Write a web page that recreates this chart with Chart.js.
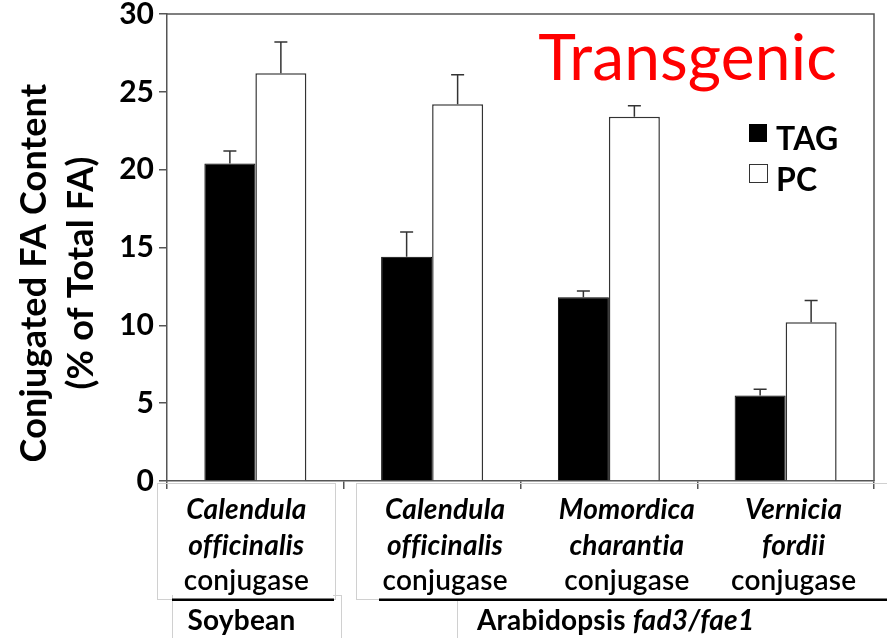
<!DOCTYPE html>
<html>
<head>
<meta charset="utf-8">
<script src="https://cdn.jsdelivr.net/npm/chart.js@4.4.1/dist/chart.umd.min.js"></script>
<style>
  body { margin: 0; background: #fff; }
</style>
</head>
<body>
<canvas id="conj-chart" width="887" height="638"></canvas>
<script>
// conjugated FA content in TAG and PC, transgenic lines
const categories = ['Soybean C. officinalis', 'Arabidopsis C. officinalis', 'Arabidopsis M. charantia', 'Arabidopsis V. fordii'];
const tagValues = [20.4, 14.4, 11.8, 5.5];
const tagErrors = [0.8, 1.6, 0.4, 0.4];
const pcValues = [26.2, 24.2, 23.4, 10.2];
const pcErrors = [2.0, 1.9, 0.7, 1.4];
const yTicks = [0, 5, 10, 15, 20, 25, 30];

// species names (italic) printed under each pair of bars
const speciesLines = [
  ['Calendula', 'officinalis'],
  ['Calendula', 'officinalis'],
  ['Momordica', 'charantia'],
  ['Vernicia', 'fordii']
];

const FONT = 'Lato, "Open Sans", sans-serif';
const AXIS = '#555';

// upward error bars on top of each bar
const errorBars = {
  id: 'errorBars',
  afterDatasetsDraw(chart) {
    const { ctx } = chart;
    const y = chart.scales.y;
    const errs = [tagErrors, pcErrors];
    ctx.save();
    ctx.strokeStyle = '#333';
    ctx.lineWidth = 1.5;
    chart.data.datasets.forEach((ds, d) => {
      chart.getDatasetMeta(d).data.forEach((bar, i) => {
        const top = y.getPixelForValue(ds.data[i]);
        const end = y.getPixelForValue(ds.data[i] + errs[d][i]);
        ctx.beginPath();
        ctx.moveTo(bar.x, top);
        ctx.lineTo(bar.x, end);
        ctx.moveTo(bar.x - 6.5, end);
        ctx.lineTo(bar.x + 6.5, end);
        ctx.stroke();
      });
    });
    ctx.restore();
  }
};

// frame, title, legend, axis title and the two-level category labels
const decorations = {
  id: 'decorations',
  afterDraw(chart) {
    const { ctx, chartArea: a } = chart;
    const x = chart.scales.x;
    ctx.save();
    ctx.letterSpacing = '0.2px'; // keeps "ti" / "ffi" as separate letters

    // top and right side of the frame
    ctx.strokeStyle = AXIS;
    ctx.lineWidth = 1.5;
    ctx.beginPath();
    ctx.moveTo(a.left, a.top);
    ctx.lineTo(a.right, a.top);
    ctx.lineTo(a.right, a.bottom);
    ctx.stroke();

    // big red title
    ctx.fillStyle = '#ff0000';
    ctx.font = '64px ' + FONT;
    ctx.textAlign = 'right';
    ctx.textBaseline = 'alphabetic';
    ctx.fillText('Transgenic', a.right - 37, 80);

    // legend
    const lx = a.right - 125;
    ctx.lineWidth = 1;
    ctx.fillStyle = '#000';
    ctx.fillRect(lx, 124, 18, 18);
    ctx.fillStyle = '#fff';
    ctx.strokeStyle = '#333';
    ctx.fillRect(lx, 164.5, 18, 18);
    ctx.strokeRect(lx + 0.5, 164.5, 18, 18);
    ctx.fillStyle = '#000';
    ctx.textAlign = 'left';
    ctx.font = 'bold 32px ' + FONT;
    ctx.fillText('TAG', lx + 27, 150);
    ctx.fillText('PC', lx + 27, 191);

    // y axis title, two lines rotated
    ctx.save();
    ctx.translate(0, 273);
    ctx.rotate(-Math.PI / 2);
    ctx.textAlign = 'center';
    ctx.textBaseline = 'middle';
    ctx.font = 'bold 36px ' + FONT;
    ctx.fillText('Conjugated FA Content', 0, 34);
    ctx.fillText('(% of Total FA)', 0, 81);
    ctx.restore();

    // light text-box outlines
    ctx.strokeStyle = '#d0d0d0';
    ctx.lineWidth = 1;
    ctx.strokeRect(157.5, 483.5, 178, 116);
    ctx.strokeRect(356.5, 483.5, 540, 116);
    ctx.beginPath();
    ctx.moveTo(172.5, 595); ctx.lineTo(172.5, 638);
    ctx.moveTo(341.5, 595); ctx.lineTo(341.5, 638);
    ctx.moveTo(333, 595.5); ctx.lineTo(341.5, 595.5);
    ctx.moveTo(457.5, 600); ctx.lineTo(457.5, 638);
    ctx.stroke();

    // category labels: species in italics, then "conjugase"
    const shift = [-9, 13, 18, 8];
    ctx.fillStyle = '#000';
    ctx.textAlign = 'center';
    ctx.textBaseline = 'alphabetic';
    categories.forEach((c, i) => {
      const cx = x.getPixelForValue(i) + shift[i];
      ctx.font = 'italic bold 28px ' + FONT;
      ctx.fillText(speciesLines[i][0], cx, 519);
      ctx.fillText(speciesLines[i][1], cx, 555);
      ctx.font = '600 28px ' + FONT;
      ctx.fillText('conjugase', cx, 590);
    });

    // host separators
    ctx.fillRect(172, 598.5, 162, 2.5);
    ctx.fillRect(379, 598.5, 508, 2.5);

    // host names
    ctx.font = 'bold 28px ' + FONT;
    ctx.fillText('Soybean', 241.5, 630);
    ctx.textAlign = 'left';
    const host = 'Arabidopsis ';
    ctx.fillText(host, 477, 630);
    const hw = ctx.measureText(host).width;
    ctx.font = 'italic bold 28px ' + FONT;
    ctx.fillText('fad3/fae1', 477 + hw, 630);

    ctx.restore();
  }
};

new Chart(document.getElementById('conj-chart'), {
  type: 'bar',
  data: {
    labels: categories,
    datasets: [
      {
        label: 'TAG',
        data: tagValues,
        backgroundColor: '#000',
        borderColor: '#000',
        borderWidth: 1
      },
      {
        label: 'PC',
        data: pcValues,
        backgroundColor: '#fff',
        borderColor: '#333',
        borderWidth: 1.5
      }
    ]
  },
  options: {
    responsive: false,
    animation: false,
    events: [],
    layout: { padding: { top: 14, right: 13, left: 0, bottom: 0 } },
    datasets: {
      bar: { categoryPercentage: 0.577, barPercentage: 1 }
    },
    plugins: {
      legend: { display: false },
      tooltip: { enabled: false }
    },
    scales: {
      x: {
        grid: {
          offset: true,
          drawOnChartArea: false,
          tickLength: 8,
          color: AXIS,
          lineWidth: 1.5
        },
        border: { color: AXIS, width: 1.5 },
        ticks: { display: false },
        afterFit(scale) { scale.height = 157; }
      },
      y: {
        min: 0,
        max: 30,
        afterBuildTicks(scale) {
          scale.ticks = yTicks.map(v => ({ value: v }));
        },
        grid: {
          drawOnChartArea: false,
          tickLength: 8,
          color: AXIS,
          lineWidth: 1.5
        },
        border: { color: AXIS, width: 1.5 },
        ticks: {
          color: '#000',
          padding: 5,
          font: { family: FONT, size: 30, weight: 'bold' }
        },
        afterFit(scale) {
          scale.width = 167;
          // let the top label overhang instead of pushing the plot down
          scale.paddingTop = 0;
          scale.paddingBottom = 0;
        }
      }
    }
  },
  plugins: [errorBars, decorations]
});
</script>
</body>
</html>
